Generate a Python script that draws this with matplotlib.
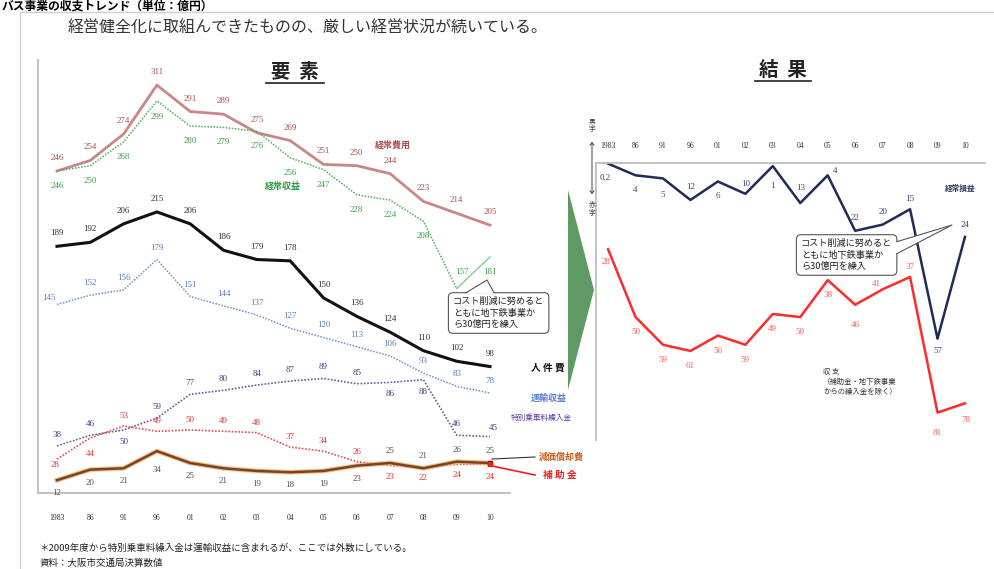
import matplotlib
matplotlib.use("Agg")
import matplotlib.pyplot as plt
from matplotlib.patches import Polygon, FancyArrowPatch
from matplotlib.lines import Line2D

plt.rcParams["font.family"] = ["Noto Sans CJK JP", "DejaVu Sans"]

W, H = 995, 569

YEARS = ["1983", "86", "91", "96", "01", "02", "03", "04", "05", "06", "07", "08", "09", "10"]

# left panel (要素), 億円
keijo_hiyo = [246, 254, 274, 311, 291, 289, 275, 269, 251, 250, 244, 223, 214, 205]
keijo_shueki = [246, 250, 268, 299, 280, 279, 276, 256, 247, 228, 224, 208, 157, 181]
jinkenhi = [189, 192, 206, 215, 206, 186, 179, 178, 150, 136, 124, 110, 102, 98]
unyu_shueki = [145, 152, 156, 179, 151, 144, 137, 127, 120, 113, 106, 93, 83, 78]
tokubetsu = [38, 46, 50, 59, 77, 80, 84, 87, 89, 85, 86, 88, 46, 45]
hojokin = [28, 44, 53, 49, 50, 49, 48, 37, 34, 26, 23, 22, 24, 24]
genka = [12, 20, 21, 34, 25, 21, 19, 18, 19, 23, 25, 21, 26, 25]

# right panel (結果), 億円
keijo_soneki = [-0.2, -4, -5, -12, -6, -10, -1, -13, -4, -22, -20, -15, -57, -24]
shushi = [-28, -50, -59, -61, -56, -59, -49, -50, -38, -46, -41, -37, -81, -78]

NUM_FONT = "Liberation Serif"
CALLOUT = "コスト削減に努めると\nともに地下鉄事業か\nら30億円を繰入"


def px(x, y):
    """pixel position (from top-left) -> figure fraction"""
    return x / W, 1 - y / H


def ftext(x, y, s, **kw):
    fx, fy = px(x, y)
    return fig.text(fx, fy, s, **kw)


def fline(xs, ys, **kw):
    pts = [px(x, y) for x, y in zip(xs, ys)]
    fig.add_artist(Line2D([p[0] for p in pts], [p[1] for p in pts], transform=fig.transFigure, **kw))


def fpoly(points, **kw):
    fig.add_artist(Polygon([px(x, y) for x, y in points], closed=True, transform=fig.transFigure, **kw))


def label_series(ax, values, color, dy, overrides=None, fmt=None, size=6.5):
    overrides = overrides or {}
    for i, v in enumerate(values):
        dx_, dy_ = overrides.get(i, (0, dy))
        txt = fmt(v) if fmt else str(v)
        ax.annotate(txt, (i, v), xytext=(dx_, dy_), textcoords="offset pixels",
                    ha="center", va="center", fontsize=size, color=color,
                    family=NUM_FONT, annotation_clip=False)


def box_extent(text):
    """callout box edges in top-left pixel coords"""
    fig.canvas.draw()
    ext = text.get_bbox_patch().get_window_extent()
    return ext.x0, H - ext.y1, ext.x1, H - ext.y0


fig = plt.figure(figsize=(W / 100, H / 100), dpi=100)
fig.patch.set_facecolor("white")

# frame + heading
fline([20, 995], [12, 12], color="#d0d0d0", lw=1)
fline([20, 20], [12, 569], color="#d0d0d0", lw=1)
ftext(2, 6, "バス事業の収支トレンド（単位：億円）", fontsize=8.5, fontweight="bold", va="center", ha="left")
ftext(68, 28, "経営健全化に取組んできたものの、厳しい経営状況が続いている。",
      fontsize=11.5, color="#333333", va="center", ha="left")
ftext(295, 72, "要  素", fontsize=14, fontweight="bold", ha="center", va="center", color="#222222")
fline([266, 324], [83, 83], color="#222222", lw=1.2)
ftext(783, 70, "結  果", fontsize=14, fontweight="bold", ha="center", va="center", color="#222222")
fline([755, 811], [81, 81], color="#222222", lw=1.2)

x = list(range(len(YEARS)))

# ---------------- left panel ----------------
ax1 = fig.add_axes([38 / W, 1 - 493 / H, (510 - 38) / W, (493 - 60) / H])
ax1.set_xlim(-0.57, 13.6)
ax1.set_ylim(2.3, 330)
for side in ["top", "right"]:
    ax1.spines[side].set_visible(False)
for side in ["left", "bottom"]:
    ax1.spines[side].set_color("#c4c4c4")
    ax1.spines[side].set_linewidth(1.5)
ax1.set_yticks([])
ax1.set_xticks(x)
ax1.set_xticklabels(YEARS, fontsize=5.5, family=NUM_FONT, color="#333333")
ax1.tick_params(axis="x", length=0, pad=15)
ax1.patch.set_alpha(0)

dot = (0, (1, 1))
ax1.plot(x, keijo_hiyo, color="#cc8585", lw=2)
ax1.plot(x[:13], keijo_shueki[:13], color="#4fae5a", lw=1.1, ls=dot)
ax1.plot(x[12:], keijo_shueki[12:], color="#7fcf85", lw=1.0)
ax1.plot(x, jinkenhi, color="#111111", lw=2.2)
ax1.plot(x, unyu_shueki, color="#7090c8", lw=1.1, ls=dot)
ax1.plot(x, tokubetsu, color="#6a5a9a", lw=1.2, ls=dot)
ax1.plot(x, hojokin, color="#ee4a4a", lw=1.2, ls=dot)
ax1.plot(x, genka, color="#f2b070", lw=3.4, alpha=0.8)
ax1.plot(x, genka, color="#7a4420", lw=1.8)
ax1.plot(x[-1], genka[-1], marker="s", ms=3, color="#4a2010")
ax1.plot(x[-1], hojokin[-1], marker="s", ms=3, color="#ee2222")

label_series(ax1, keijo_hiyo, "#a85050", 13)
label_series(ax1, keijo_shueki, "#3aa048", -15, {12: (5, 17), 3: (0, -16)})
label_series(ax1, jinkenhi, "#333333", 13)
label_series(ax1, unyu_shueki, "#5a7cc0", 12, {0: (-8, 6)})
label_series(ax1, tokubetsu, "#4a3a80", 11, {2: (0, -12), 10: (0, -12), 11: (0, -12), 13: (3, 9)})
label_series(ax1, hojokin, "#ee3030", 10, {0: (-2, -6), 1: (0, -16), 10: (0, -11), 11: (0, -11),
                                          12: (0, -11), 13: (0, -13)})
label_series(ax1, genka, "#555555", -13, {3: (0, -19), 10: (0, 12), 11: (0, 12), 12: (0, 12), 13: (0, 12)})

ftext(393, 145, "経常費用", fontsize=6.5, color="#b04848", fontweight="bold", ha="center", va="center")
ftext(283, 187, "経常収益", fontsize=6.5, color="#2f9a40", fontweight="bold", ha="center", va="center")
ftext(548, 368, "人 件 費", fontsize=7, color="#111111", fontweight="bold", ha="center", va="center")
ftext(549, 398, "運輸収益", fontsize=6.5, color="#5a80d0", fontweight="bold", ha="center", va="center")
ftext(541, 418, "特別乗車料繰入金", fontsize=5.5, color="#5a3aa0", ha="center", va="center")
ftext(561, 457, "減価償却費", fontsize=6.5, color="#c86020", fontweight="bold", ha="center", va="center")
ftext(560, 475, "補 助 金", fontsize=7, color="#ee2020", fontweight="bold", ha="center", va="center")
fline([492, 535], [459, 457], color="#333333", lw=0.8)
fline([492, 535], [466, 475], color="#ee2020", lw=1.2)

# green arrow between panels
fpoly([(568, 190), (594, 290), (568, 390)], fc="#5f9a64", ec="none")

# ---------------- right panel ----------------
ax2 = fig.add_axes([596 / W, 1 - 440 / H, (985 - 596) / W, (440 - 163) / H])
ax2.set_xlim(-0.44, 13.73)
ax2.set_ylim(-89.9, 0)
for side in ["bottom", "right"]:
    ax2.spines[side].set_visible(False)
for side in ["left", "top"]:
    ax2.spines[side].set_color("#bdbdbd")
    ax2.spines[side].set_linewidth(1.3)
ax2.set_yticks([])
ax2.set_xticks(x)
ax2.set_xticklabels(YEARS, fontsize=5.5, family=NUM_FONT, color="#333333")
ax2.tick_params(axis="x", length=0, top=True, labeltop=True, bottom=False, labelbottom=False, pad=9)
ax2.patch.set_alpha(0)

ax2.plot(x, keijo_soneki, color="#1f2b58", lw=1.8, clip_on=False)
ax2.plot(x, shushi, color="#ff2a2a", lw=1.8, clip_on=False)

label_series(ax2, keijo_soneki, "#3a4570", -15,
             {0: (-3, -14), 2: (0, -17), 3: (0, 13), 5: (0, 10), 6: (0, -20), 7: (0, 15),
              8: (7, 4), 9: (0, 13), 10: (0, 13), 11: (0, 10), 12: (0, -12), 13: (0, 12)},
             fmt=lambda v: f"{abs(v):g}")
label_series(ax2, shushi, "#ff5a5a", -15,
             {0: (-2, -13), 9: (0, -20), 10: (-6, 5), 11: (0, 10), 12: (0, -20), 13: (1, -17)},
             fmt=lambda v: f"{abs(v):g}")

ftext(960, 188, "経常損益", fontsize=5.5, color="#2a3560", fontweight="bold", ha="center", va="center")
ftext(823, 382, "収 支\n（補助金・地下鉄事業\nからの繰入金を除く）", fontsize=5.3, color="#333333",
      ha="left", va="center", linespacing=1.35, multialignment="left")

# 黒字 / 赤字 arrow
fig.add_artist(FancyArrowPatch(px(592, 197), px(592, 139), transform=fig.transFigure,
                               arrowstyle="<->,head_length=2,head_width=1.5", color="#444444", lw=0.7))
ftext(592, 125, "黒\n字", fontsize=4.8, color="#333333", ha="center", va="center", linespacing=1.0)
ftext(592, 209, "赤\n字", fontsize=4.8, color="#333333", ha="center", va="center", linespacing=1.0)

# callouts
box_style = dict(boxstyle="round,pad=0.5", fc="white", ec="#555555", lw=0.8)
left_call = ftext(453, 313, CALLOUT, fontsize=6.6, ha="left", va="center", linespacing=1.3,
                  color="#222222", bbox=box_style)
right_call = ftext(801, 255, CALLOUT, fontsize=6.6, ha="left", va="center", linespacing=1.3,
                   color="#222222", bbox=box_style)

lx0, ly0, lx1, ly1 = box_extent(left_call)
fpoly([(466, ly0 + 1), (487, 280), (494, ly0 + 1)], fc="white", ec="none", zorder=4)
fline([466, 487, 494], [ly0, 280, ly0], color="#555555", lw=0.8, zorder=5)

rx0, ry0, rx1, ry1 = box_extent(right_call)
fpoly([(rx1 - 1, ry0 + 7), (952, 225), (rx1 - 1, ry0 + 19)], fc="white", ec="none", zorder=4)
fline([rx1, 952, rx1], [ry0 + 7, 225, ry0 + 19], color="#555555", lw=0.8, zorder=5)

# notes
ftext(40, 548, "＊2009年度から特別乗車料繰入金は運輸収益に含まれるが、ここでは外数にしている。",
      fontsize=6.8, color="#222222", ha="left", va="center")
ftext(40, 563, "資料：大阪市交通局決算数値", fontsize=6.8, color="#222222", ha="left", va="center")

fig.savefig("out.png", dpi=100)
